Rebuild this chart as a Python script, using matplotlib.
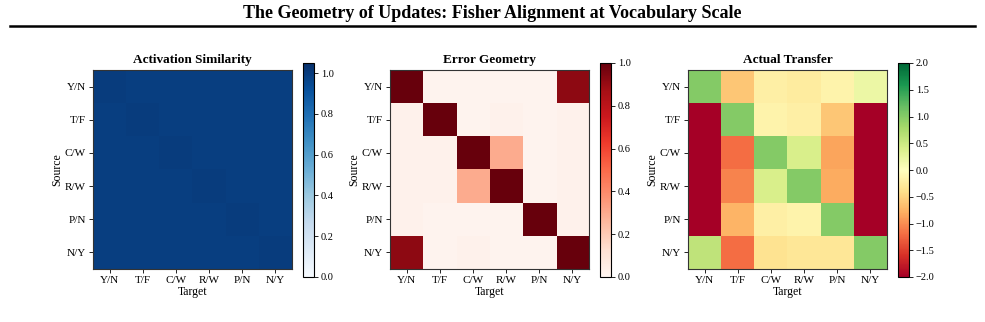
import numpy as np
import matplotlib
matplotlib.use('Agg')
import matplotlib.pyplot as plt

plt.rcParams['font.family'] = ['Liberation Serif', 'DejaVu Serif']

labels = ['Y/N', 'T/F', 'C/W', 'R/W', 'P/N', 'N/Y']

activation = np.array([
    [1.00, 0.99, 0.99, 0.99, 0.99, 0.99],
    [0.99, 1.00, 0.99, 0.99, 0.99, 0.99],
    [0.99, 0.99, 1.00, 0.99, 0.99, 0.99],
    [0.99, 0.99, 0.99, 1.00, 0.99, 0.99],
    [0.99, 0.99, 0.99, 0.99, 1.00, 0.99],
    [0.99, 0.99, 0.99, 0.99, 0.99, 1.00],
])

error_geom = np.array([
    [1.00, 0.01, 0.01, 0.01, 0.01, 0.92],
    [0.02, 1.00, 0.01, 0.02, 0.01, 0.02],
    [0.02, 0.02, 1.00, 0.30, 0.01, 0.02],
    [0.02, 0.02, 0.30, 1.00, 0.01, 0.02],
    [0.02, 0.01, 0.01, 0.01, 1.00, 0.02],
    [0.92, 0.01, 0.02, 0.01, 0.01, 1.00],
])

transfer = np.array([
    [1.00, -0.60, -0.20, -0.25, -0.15, 0.20],
    [-2.50, 1.00, -0.15, -0.20, -0.60, -2.50],
    [-2.50, -1.20, 1.00, 0.40, -0.85, -2.50],
    [-2.50, -1.05, 0.40, 1.00, -0.80, -2.50],
    [-2.50, -0.75, -0.20, -0.15, 1.00, -2.50],
    [0.60, -1.20, -0.35, -0.30, -0.30, 1.00],
])

W, H = 985, 322
fig = plt.figure(figsize=(W / 100, H / 100), dpi=100)

fig.text(0.5, 1 - 14 / H, 'The Geometry of Updates: Fisher Alignment at Vocabulary Scale',
         ha='center', va='center', fontsize=13, fontweight='bold')
fig.add_artist(plt.Line2D([10 / W, 975 / W], [1 - 26 / H, 1 - 26 / H], color='black', lw=1.8))

panels = [
    ('Activation Similarity', activation, 'Blues', 0.0, 1.05, [0.0, 0.2, 0.4, 0.6, 0.8, 1.0], 93),
    ('Error Geometry', error_geom, 'Reds', 0.0, 1.0, [0.0, 0.2, 0.4, 0.6, 0.8, 1.0], 390),
    ('Actual Transfer', transfer, 'RdYlGn', -2.0, 2.0, [-2.0, -1.5, -1.0, -0.5, 0.0, 0.5, 1.0, 1.5, 2.0], 688),
]

for title, data, cmap, vmin, vmax, cticks, left in panels:
    ax = fig.add_axes([left / W, 53 / H, 199 / W, 199 / H])
    im = ax.imshow(data, cmap=cmap, vmin=vmin, vmax=vmax, aspect='auto')
    ax.set_xticks(range(len(labels)))
    ax.set_yticks(range(len(labels)))
    ax.set_xticklabels(labels, fontsize=8)
    ax.set_yticklabels(labels, fontsize=8)
    ax.tick_params(length=3, width=0.6, pad=2)
    ax.set_xlabel('Target', fontsize=8.5, labelpad=1)
    ax.set_ylabel('Source', fontsize=8.5, labelpad=1)
    ax.set_title(title, fontsize=9.5, fontweight='bold', pad=5)
    for s in ax.spines.values():
        s.set_color('#333333')
        s.set_linewidth(0.8)

    cax = fig.add_axes([(left + 210) / W, 45 / H, 11 / W, 214 / H])
    cb = fig.colorbar(im, cax=cax, ticks=cticks)
    cb.ax.tick_params(labelsize=7.5, length=3, width=0.6, pad=2)
    cb.outline.set_linewidth(0.8)

fig.savefig('out.png', dpi=100)
